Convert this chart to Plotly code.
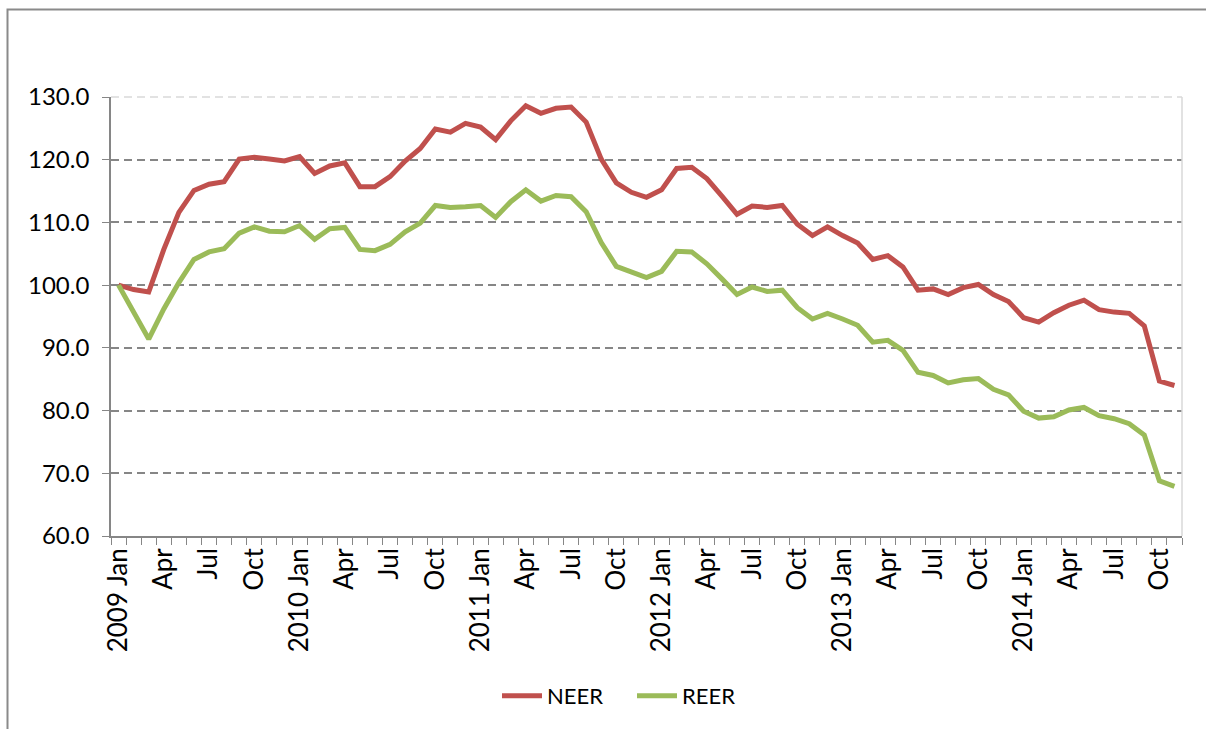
import plotly.graph_objects as go

# Monthly observations, January 2009 to November 2014
years = [2009, 2010, 2011, 2012, 2013, 2014]
month_names = ["Jan", "Feb", "Mar", "Apr", "May", "Jun",
               "Jul", "Aug", "Sep", "Oct", "Nov", "Dec"]
months = [f"{y} {m}" for y in years for m in month_names][:71]

# Axis labels: year shown on January, quarter months otherwise
tick_labels = []
for name in months:
    y, m = name.split()
    if m == "Jan":
        tick_labels.append(f"{y} Jan")
    elif m in ("Apr", "Jul", "Oct"):
        tick_labels.append(m)
    else:
        tick_labels.append("")

neer = [100.0, 99.3, 98.9, 105.7, 111.6, 115.1, 116.1, 116.5, 120.1, 120.4,
        120.1, 119.8, 120.5, 117.8, 119.0, 119.5, 115.7, 115.7, 117.3, 119.8,
        121.8, 124.9, 124.4, 125.8, 125.2, 123.2, 126.2, 128.6, 127.4, 128.2,
        128.4, 126.0, 120.1, 116.3, 114.8, 114.0, 115.2, 118.6, 118.8, 117.0,
        114.2, 111.3, 112.6, 112.4, 112.7, 109.7, 107.9, 109.3, 107.9, 106.7,
        104.1, 104.7, 102.9, 99.2, 99.4, 98.5, 99.6, 100.1, 98.5, 97.4,
        94.8, 94.1, 95.6, 96.8, 97.6, 96.1, 95.7, 95.5, 93.5, 84.7, 84.0]

reer = [100.0, 95.7, 91.4, 96.2, 100.4, 104.1, 105.3, 105.8, 108.3, 109.3,
        108.6, 108.5, 109.5, 107.3, 109.0, 109.2, 105.7, 105.5, 106.5, 108.5,
        109.9, 112.7, 112.4, 112.5, 112.7, 110.8, 113.3, 115.2, 113.4, 114.3,
        114.1, 111.7, 106.8, 103.0, 102.1, 101.2, 102.2, 105.4, 105.3, 103.4,
        101.0, 98.5, 99.7, 99.0, 99.2, 96.4, 94.6, 95.5, 94.6, 93.6,
        90.9, 91.2, 89.6, 86.1, 85.6, 84.4, 84.9, 85.1, 83.4, 82.5,
        79.9, 78.8, 79.0, 80.1, 80.5, 79.2, 78.7, 77.9, 76.1, 68.8, 67.9]

FONT = "Lato"
AXIS_GREY = "#868686"

fig = go.Figure()
fig.add_trace(go.Scatter(x=months, y=neer, name="NEER", mode="lines",
                         line=dict(color="#C0504D", width=5)))
fig.add_trace(go.Scatter(x=months, y=reer, name="REER", mode="lines",
                         line=dict(color="#9BBB59", width=5)))

W, H = 1206, 729
L, R, T, B = 111, 24, 97, 193
pw, ph = W - L - R, H - T - B


def px_x(p):
    return (p - L) / pw


def px_y(p):
    return (H - B - p) / ph


fig.update_layout(
    width=W, height=H, autosize=False,
    margin=dict(l=L, r=R, t=T, b=B),
    paper_bgcolor="white", plot_bgcolor="white",
    font=dict(family=FONT, color="black", size=23),
    showlegend=True,
    legend=dict(orientation="h", x=px_x(632), y=px_y(696),
                xanchor="center", yanchor="middle",
                font=dict(family=FONT, size=22, color="black"),
                itemwidth=40, tracegroupgap=0, entrywidth=80),
    xaxis=dict(
        type="category",
        categoryorder="array", categoryarray=months,
        range=[-0.5, len(months) - 0.5],
        tickmode="array", tickvals=months, ticktext=tick_labels,
        tickangle=-90, tickson="boundaries",
        ticks="outside", ticklen=7, tickwidth=1.3, tickcolor=AXIS_GREY,
        showline=True, linecolor=AXIS_GREY, linewidth=1.6,
        showgrid=False, zeroline=False,
        tickfont=dict(family=FONT, size=26, color="black"),
    ),
    yaxis=dict(
        range=[60, 130], dtick=10, tick0=60, tickformat=".1f",
        ticks="outside", ticklen=7, tickwidth=1.3, tickcolor=AXIS_GREY,
        ticklabelstandoff=8,
        showline=True, linecolor=AXIS_GREY, linewidth=1.6,
        showgrid=True, gridcolor=AXIS_GREY, gridwidth=1.5, griddash="8px,5px",
        zeroline=False,
        tickfont=dict(family=FONT, size=24, color="black"),
    ),
)

# Light plot-area edge on top and right
fig.add_shape(type="line", xref="paper", yref="paper", x0=0, x1=1, y0=1, y1=1,
              line=dict(color="#D9D9D9", width=1.5, dash="8px,5px"),
              layer="above")
fig.add_shape(type="line", xref="paper", yref="paper", x0=1, x1=1, y0=0, y1=1,
              line=dict(color="#D9D9D9", width=1.5), layer="above")

# Chart frame (runs past the right and bottom page edges)
fig.add_shape(type="rect", xref="paper", yref="paper",
              x0=px_x(7.5), x1=px_x(1215), y0=px_y(740), y1=px_y(9.5),
              line=dict(color="#8A8A8A", width=2), fillcolor="rgba(0,0,0,0)",
              layer="below")

fig.write_html("out.html")
